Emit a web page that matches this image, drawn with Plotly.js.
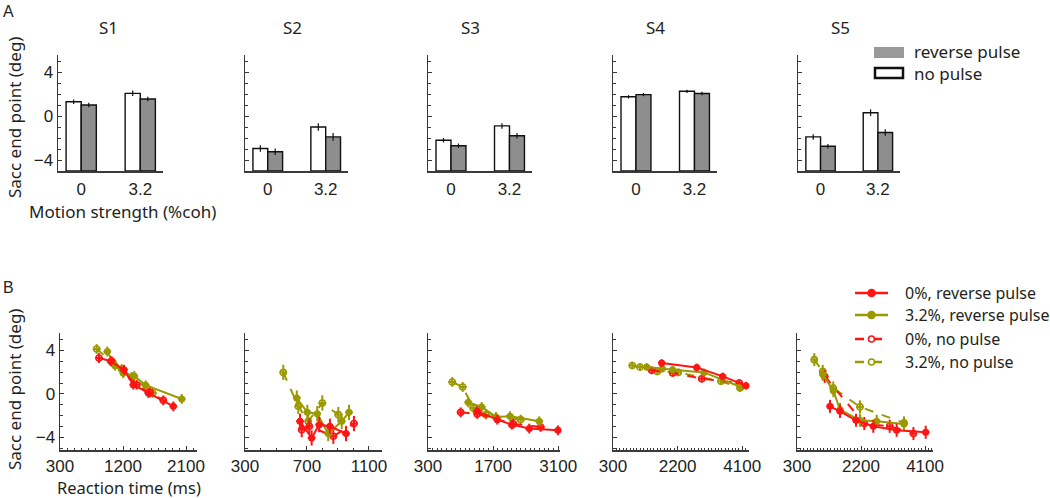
<!DOCTYPE html>
<html><head><meta charset="utf-8">
<script src="https://cdn.plot.ly/plotly-3.0.1.min.js"></script>
<style>html,body{margin:0;padding:0;background:#fff}#chart{width:1050px;height:498px}</style>
</head><body><div id="chart"></div>
<script>
// ---------- DATA ----------
const subjects = ["S1","S2","S3","S4","S5"];
const cohLabels = ["0","3.2"];
// Panel A: saccade end point (deg), [0%, 3.2%]
const noPulse_S1 = [1.3, 2.06],  reverse_S1 = [1.0, 1.55];
const noPulse_S2 = [-2.95, -1.0], reverse_S2 = [-3.25, -1.9];
const noPulse_S3 = [-2.2, -0.9],  reverse_S3 = [-2.7, -1.8];
const noPulse_S4 = [1.75, 2.25],  reverse_S4 = [1.95, 2.05];
const noPulse_S5 = [-1.9, 0.3],   reverse_S5 = [-2.75, -1.5];
const noPulseErr_S1 = [0.2, 0.25], reverseErr_S1 = [0.2, 0.2];
const noPulseErr_S2 = [0.3, 0.35], reverseErr_S2 = [0.3, 0.35];
const noPulseErr_S3 = [0.2, 0.25], reverseErr_S3 = [0.2, 0.25];
const noPulseErr_S4 = [0.15, 0.15], reverseErr_S4 = [0.15, 0.15];
const noPulseErr_S5 = [0.25, 0.3], reverseErr_S5 = [0.2, 0.3];

// Panel B: reaction time (ms) and saccade end point (deg)
// red = 0%, olive = 3.2%; "pulse" = reverse pulse (solid), "none" = no pulse (dashed)
const rt_S1_red_pulse = [1024, 1214, 1347, 1561, 1919];
const ep_S1_red_pulse = [3.0, 2.23, 0.85, 0.09, -1.14];
const rt_S1_olv_pulse = [976, 1086, 1204, 1361, 1524, 2039];
const ep_S1_olv_pulse = [3.9, 2.6, 1.9, 1.65, 0.8, -0.46];
const rt_S1_red_none  = [857, 1039, 1396, 1586, 1776];
const ep_S1_red_none  = [3.3, 3.0, 0.85, 0.15, -0.59];
const rt_S1_olv_none  = [824, 1061, 1181, 1324, 1624];
const ep_S1_olv_none  = [4.13, 2.84, 2.29, 1.56, 0.09];

const rt_S2_red_pulse = [655, 730, 779, 848, 952];
const ep_S2_red_pulse = [-2.51, -4.04, -2.82, -2.97, -3.64];
const rt_S2_olv_pulse = [634, 702, 766, 837, 924, 971];
const ep_S2_olv_pulse = [-0.37, -1.69, -1.81, -3.64, -2.51, -1.69];
const rt_S2_red_none  = [666, 715, 870, 1003];
const ep_S2_red_none  = [-3.28, -2.97, -3.89, -2.72];
const rt_S2_olv_none  = [547, 644, 708, 799, 902];
const ep_S2_olv_none  = [1.98, -1.14, -2.51, -0.83, -1.9];

const rt_S3_red_pulse = [1360, 1790, 2100, 2478, 3095];
const ep_S3_red_pulse = [-1.6, -2.36, -2.82, -3.18, -3.34];
const rt_S3_olv_pulse = [1166, 1455, 1762, 2063, 2693];
const ep_S3_olv_pulse = [-0.77, -1.19, -2.11, -2.05, -2.51];
const rt_S3_red_none  = [1003, 1360, 2134, 2723];
const ep_S3_red_none  = [-1.69, -1.84, -2.75, -3.03];
const rt_S3_olv_none  = [822, 1046, 1274, 1547, 2293];
const ep_S3_olv_none  = [1.1, 0.64, -1.28, -1.9, -2.36];

const rt_S4_red_pulse = [1732, 2762, 3526, 4211];
const ep_S4_red_pulse = [2.84, 2.44, 1.61, 0.76];
const rt_S4_olv_pulse = [1291, 1750, 2056, 2976, 4065];
const ep_S4_olv_pulse = [2.48, 2.32, 2.23, 1.98, 0.64];
const rt_S4_red_none  = [1438, 2056, 2909, 4015];
const ep_S4_red_none  = [2.17, 1.93, 1.4, 1.0];
const rt_S4_olv_none  = [868, 1094, 1603, 2220, 3476, 4035];
const ep_S4_olv_none  = [2.62, 2.48, 2.07, 1.98, 1.16, 0.55];

const rt_S5_red_pulse = [1279, 1576, 2051, 2564, 3258, 4119];
const ep_S5_red_pulse = [-1.14, -1.6, -2.42, -2.97, -3.34, -3.52];
const rt_S5_olv_pulse = [1063, 1380, 1576, 2169, 2665, 3475];
const ep_S5_olv_pulse = [1.8, 0.3, -1.44, -2.42, -2.51, -2.75];
const rt_S5_red_none  = [1122, 2297, 3050, 3755];
const ep_S5_red_none  = [1.61, -2.72, -2.97, -3.64];
const rt_S5_olv_none  = [813, 1063, 1377, 2169, 3475];
const ep_S5_olv_none  = [3.15, 2.07, 0.55, -1.19, -2.66];

const epErr_B = [0.45, 0.7, 0.45, 0.35, 0.6];   // deg
const rtErr_B = [55, 25, 85, 110, 110];         // ms

const rtTicks_S1 = [300, 1200, 2100];
const rtTicks_S2 = [300, 700, 1100];
const rtTicks_S3 = [300, 1700, 3100];
const rtTicks_S4 = [300, 2200, 4100];
const rtTicks_S5 = [300, 2200, 4100];
const epTicks = [-4, 0, 4];

// ---------- LAYOUT HELPERS ----------
const W = 1050, H = 498;
const px = p => p / W, py = p => 1 - p / H;
const FT = "Liberation Sans, Arial, sans-serif";
const FH = "Noto Sans, Open Sans, sans-serif";
const TXT = "#231f20", AX = "#3a3a3a";
const RED = "#ff1414", OLV = "#9a9a00", GRAY = "#8e8e8e";

const aDom = [[58,163],[245,348],[428,532],[613,717],[798,900]];
const bDom = [[60,197],[245,382],[428,560],[613,749],[797,933]];
const bRangeMax = [2257, 1184, 3139, 4300, 4336];

const noPulse = [noPulse_S1,noPulse_S2,noPulse_S3,noPulse_S4,noPulse_S5];
const reverse = [reverse_S1,reverse_S2,reverse_S3,reverse_S4,reverse_S5];
const noPulseErr = [noPulseErr_S1,noPulseErr_S2,noPulseErr_S3,noPulseErr_S4,noPulseErr_S5];
const reverseErr = [reverseErr_S1,reverseErr_S2,reverseErr_S3,reverseErr_S4,reverseErr_S5];
const rtTicks = [rtTicks_S1,rtTicks_S2,rtTicks_S3,rtTicks_S4,rtTicks_S5];
const B = [
  {rp:rt_S1_red_pulse,ep_rp:ep_S1_red_pulse,op:rt_S1_olv_pulse,ep_op:ep_S1_olv_pulse,rn:rt_S1_red_none,ep_rn:ep_S1_red_none,on:rt_S1_olv_none,ep_on:ep_S1_olv_none},
  {rp:rt_S2_red_pulse,ep_rp:ep_S2_red_pulse,op:rt_S2_olv_pulse,ep_op:ep_S2_olv_pulse,rn:rt_S2_red_none,ep_rn:ep_S2_red_none,on:rt_S2_olv_none,ep_on:ep_S2_olv_none},
  {rp:rt_S3_red_pulse,ep_rp:ep_S3_red_pulse,op:rt_S3_olv_pulse,ep_op:ep_S3_olv_pulse,rn:rt_S3_red_none,ep_rn:ep_S3_red_none,on:rt_S3_olv_none,ep_on:ep_S3_olv_none},
  {rp:rt_S4_red_pulse,ep_rp:ep_S4_red_pulse,op:rt_S4_olv_pulse,ep_op:ep_S4_olv_pulse,rn:rt_S4_red_none,ep_rn:ep_S4_red_none,on:rt_S4_olv_none,ep_on:ep_S4_olv_none},
  {rp:rt_S5_red_pulse,ep_rp:ep_S5_red_pulse,op:rt_S5_olv_pulse,ep_op:ep_S5_olv_pulse,rn:rt_S5_red_none,ep_rn:ep_S5_red_none,on:rt_S5_olv_none,ep_on:ep_S5_olv_none}
];

const traces = [];
const layout = {
  width: W, height: H, margin: {l:0, r:0, t:0, b:0},
  paper_bgcolor: "#fff", plot_bgcolor: "rgba(0,0,0,0)",
  showlegend: false, barmode: "overlay",
  annotations: [], shapes: []
};
const BASE = -5, BW = 0.256;
const axCommon = {showline:true, linecolor:AX, linewidth:1.5, showgrid:false, zeroline:false, fixedrange:true,
                  tickfont:{family:FT, size:17, color:TXT}, tickcolor:AX, tickwidth:1};

for (let i = 0; i < 5; i++) {
  // ----- Panel A -----
  const n = i + 1, xa = "x" + n, ya = "y" + n;
  layout["xaxis" + n] = Object.assign({}, axCommon, {
    domain:[px(aDom[i][0]), px(aDom[i][1])], anchor:ya, type:"category",
    range:[-0.393, 1.385], ticks:"", ticklabelstandoff:2
  });
  layout["yaxis" + n] = Object.assign({}, axCommon, {
    domain:[py(171), py(55)], anchor:xa, range:[-5, 5.55],
    tickmode:"array", tickvals:epTicks, ticktext:epTicks.map(v => v < 0 ? "\u2212" + (-v) : String(v)),
    showticklabels: i === 0, ticks:"inside", ticklen:4,
    minor:{tickmode:"linear", tick0:0, dtick:1, ticks:"inside", ticklen:2.5, tickcolor:AX, tickwidth:1}
  });
  traces.push({
    type:"bar", xaxis:xa, yaxis:ya, x:cohLabels, base:BASE,
    y:noPulse[i].map(v => v - BASE), width:BW, offset:-BW,
    marker:{color:"#fff", line:{color:"#111", width:1.4}},
    error_y:{type:"data", array:noPulseErr[i], color:"#111", thickness:1.2, width:0}
  });
  traces.push({
    type:"bar", xaxis:xa, yaxis:ya, x:cohLabels, base:BASE,
    y:reverse[i].map(v => v - BASE), width:BW, offset:0,
    marker:{color:GRAY, line:{color:"#111", width:1.4}},
    error_y:{type:"data", array:reverseErr[i], color:"#111", thickness:1.2, width:0}
  });
  layout.annotations.push({xref:"paper", yref:"paper", x:px([108,292,470,655,840][i]), y:py(27),
    text:subjects[i], showarrow:false, font:{family:FH, size:17, color:TXT}, xanchor:"center", yanchor:"middle"});

  // ----- Panel B -----
  const m = i + 6, xb = "x" + m, yb = "y" + m;
  const t = rtTicks[i];
  layout["xaxis" + m] = Object.assign({}, axCommon, {
    domain:[px(bDom[i][0]), px(bDom[i][1])], anchor:yb, range:[300, bRangeMax[i]],
    tickmode:"array", tickvals:t, ticktext:t.map(String), ticks:"inside", ticklen:4,
    minor:{tickmode:"linear", tick0:300, dtick:100, ticks:"inside", ticklen:2, tickcolor:AX, tickwidth:1}
  });
  layout["yaxis" + m] = Object.assign({}, axCommon, {
    domain:[py(450), py(333)], anchor:xb, range:[-5.15, 5.6],
    tickmode:"array", tickvals:epTicks, ticktext:epTicks.map(v => v < 0 ? "\u2212" + (-v) : String(v)),
    showticklabels: i === 0, ticks:"inside", ticklen:4,
    minor:{tickmode:"linear", tick0:0, dtick:1, ticks:"inside", ticklen:2.5, tickcolor:AX, tickwidth:1}
  });
  const d = B[i];
  const mk = (xs, ys, col, dashed) => ({
    type:"scatter", mode:"lines+markers", xaxis:xb, yaxis:yb, x:xs, y:ys, cliponaxis:false,
    line:{color:col, width:2, dash: dashed ? "dash" : "solid"},
    marker: dashed ? {symbol:"circle-open", size:6, color:col, line:{width:1.6, color:col}}
                   : {symbol:"circle", size:7, color:col},
    error_y:{type:"constant", value:epErr_B[i], color:col, thickness:2, width:0},
    error_x:{type:"constant", value:rtErr_B[i], color:col, thickness:2, width:0}
  });
  traces.push(mk(d.on, d.ep_on, OLV, true));
  traces.push(mk(d.rn, d.ep_rn, RED, true));
  traces.push(mk(d.op, d.ep_op, OLV, false));
  traces.push(mk(d.rp, d.ep_rp, RED, false));
}

// Axis titles and panel letters
const ann = layout.annotations;
ann.push({xref:"paper", yref:"paper", x:px(8), y:py(11), text:"A", showarrow:false, font:{family:FT, size:16, color:TXT}, xanchor:"center", yanchor:"middle"});
ann.push({xref:"paper", yref:"paper", x:px(8), y:py(287), text:"B", showarrow:false, font:{family:FT, size:16, color:TXT}, xanchor:"center", yanchor:"middle"});
ann.push({xref:"paper", yref:"paper", x:px(14), y:py(118), text:"Sacc end point (deg)", textangle:-90, showarrow:false, font:{family:FH, size:17, color:TXT}, xanchor:"center", yanchor:"middle"});
ann.push({xref:"paper", yref:"paper", x:px(122), y:py(212), text:"Motion strength (%coh)", showarrow:false, font:{family:FH, size:17, color:TXT}, xanchor:"center", yanchor:"middle"});
ann.push({xref:"paper", yref:"paper", x:px(14), y:py(390), text:"Sacc end point (deg)", textangle:-90, showarrow:false, font:{family:FH, size:17, color:TXT}, xanchor:"center", yanchor:"middle"});
ann.push({xref:"paper", yref:"paper", x:px(129), y:py(487), text:"Reaction time (ms)", showarrow:false, font:{family:FH, size:16.5, color:TXT}, xanchor:"center", yanchor:"middle"});

// Legend A
const sh = layout.shapes;
sh.push({type:"rect", xref:"paper", yref:"paper", x0:px(874), x1:px(904), y0:py(58), y1:py(47), fillcolor:"#999", line:{width:0}});
sh.push({type:"rect", xref:"paper", yref:"paper", x0:px(875), x1:px(903), y0:py(78), y1:py(68), fillcolor:"#fff", line:{color:"#111", width:2.5}});
ann.push({xref:"paper", yref:"paper", x:px(912), y:py(52), text:"reverse pulse", showarrow:false, font:{family:FH, size:17, color:TXT}, xanchor:"left", yanchor:"middle"});
ann.push({xref:"paper", yref:"paper", x:px(912), y:py(73), text:"no pulse", showarrow:false, font:{family:FH, size:17, color:TXT}, xanchor:"left", yanchor:"middle"});

// Legend B
const legB = [
  {label:"0%, reverse pulse", col:RED, dashed:false, y:293},
  {label:"3.2%, reverse pulse", col:OLV, dashed:false, y:315},
  {label:"0%, no pulse", col:RED, dashed:true, y:339},
  {label:"3.2%, no pulse", col:OLV, dashed:true, y:362}
];
legB.forEach(e => {
  sh.push({type:"line", xref:"paper", yref:"paper", x0:px(855), x1:px(888), y0:py(e.y), y1:py(e.y),
           line:{color:e.col, width:2.5, dash:e.dashed ? "dash" : "solid"}});
  const r = e.dashed ? 3 : 3.5;
  sh.push({type:"circle", xref:"paper", yref:"paper", xsizemode:"pixel", ysizemode:"pixel",
           xanchor:px(871.5), yanchor:py(e.y), x0:-r, x1:r, y0:-r, y1:r,
           fillcolor: e.dashed ? "#fff" : e.col, line:{color:e.col, width:1.6}});
  ann.push({xref:"paper", yref:"paper", x:px(903), y:py(e.y), text:e.label, showarrow:false,
            font:{family:FH, size:16, color:TXT}, xanchor:"left", yanchor:"middle"});
});

Plotly.newPlot("chart", traces, layout, {displayModeBar:false, staticPlot:true});
</script></body></html>
